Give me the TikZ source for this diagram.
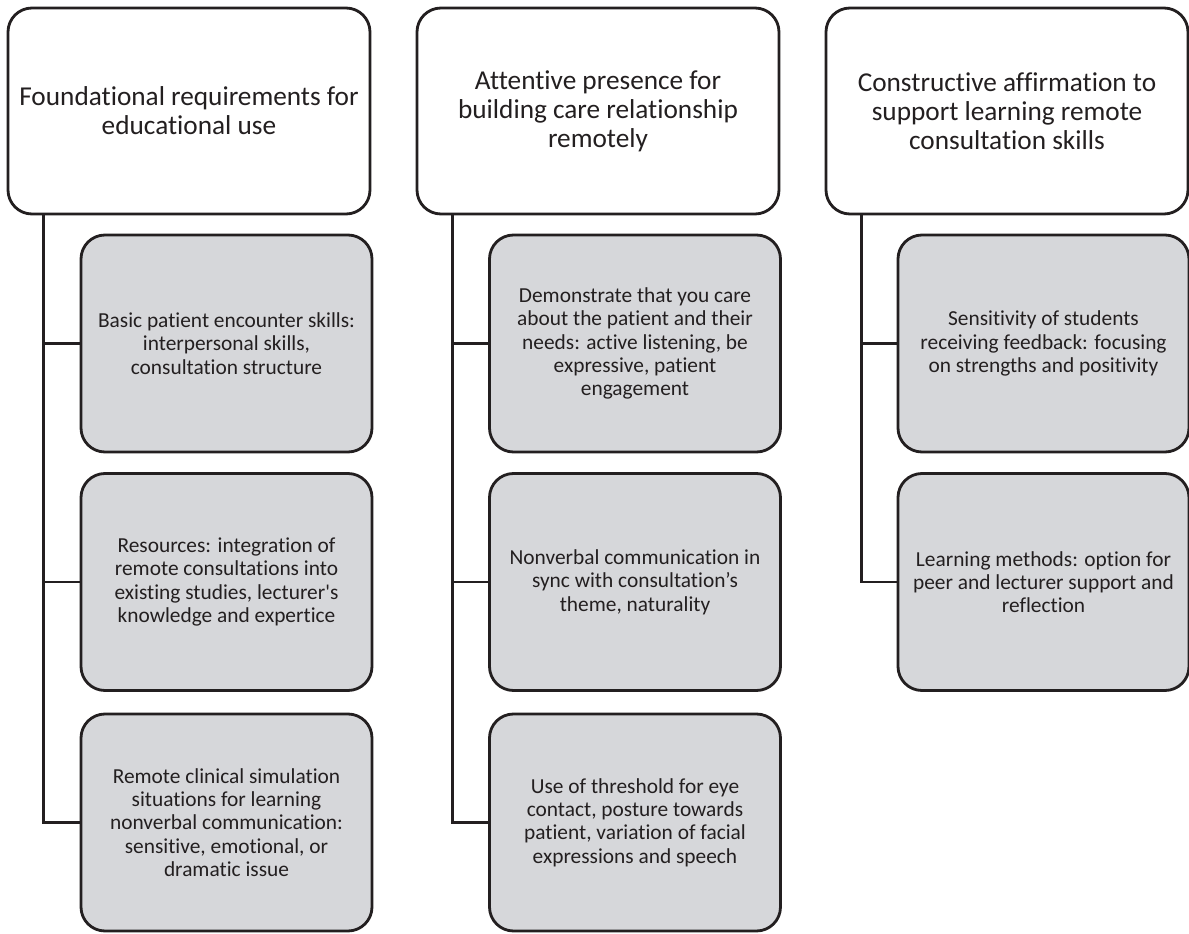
\documentclass[tikz,border=0pt]{standalone}
\usepackage{fontspec}
\setmainfont{Carlito}[Ligatures={TeX,NoCommon}]
\usepackage{tikz}
\usetikzlibrary{calc,positioning}
\definecolor{boxgray}{RGB}{214,215,218}
\definecolor{linegray}{RGB}{35,31,32}

\begin{document}
\begin{tikzpicture}[
        theme/.style={
            rectangle, draw=linegray, line width=2pt, rounded corners=0.6cm, fill=white,
            align=center, text=linegray, font=\fontsize{19.4}{20.6}\selectfont,
            minimum width=9.05cm, minimum height=5.15cm, inner sep=0pt
        },
        sub/.style={
            rectangle, draw=linegray, line width=2pt, rounded corners=0.6cm, fill=boxgray,
            align=center, text=linegray, font=\fontsize{15.2}{16.6}\selectfont,
            minimum width=7.275cm, minimum height=5.425cm, inner sep=0pt
        },
        link/.style={
            draw=linegray, line width=2pt
        }
    ]
    \useasboundingbox (0,0) rectangle (29.725,-23.35);

    % Themes
    \node[theme] (found) at (4.725, -2.775) {Foundational requirements for\\educational use};
    \node[theme] (attent) at (14.95, -2.775) {Attentive presence for\\building care relationship\\remotely};
    \node[theme] (constr) at (25.175, -2.775) {Constructive affirmation to\\support learning remote\\consultation skills};

    % Sub-themes: foundational requirements
    \node[sub] (basic) at (5.6625, -8.5875) {Basic patient encounter skills:\\interpersonal skills,\\consultation structure};
    \node[sub] (resour) at (5.6625, -14.55) {Resources: integration of\\remote consultations into\\existing studies, lecturer\textquotesingle s\\knowledge and expertice};
    \node[sub] (simul) at (5.6625, -20.5625) {Remote clinical simulation\\situations for learning\\nonverbal communication:\\sensitive, emotional, or\\dramatic issue};

    % Sub-themes: attentive presence
    \node[sub] (care) at (15.875, -8.5875) {Demonstrate that you care\\about the patient and their\\needs: active listening, be\\expressive, patient\\engagement};
    \node[sub] (nonverb) at (15.875, -14.55) {Nonverbal communication in\\sync with consultation’s\\theme, naturality};
    \node[sub] (thresh) at (15.875, -20.5625) {Use of threshold for eye\\contact, posture towards\\patient, variation of facial\\expressions and speech};

    % Sub-themes: constructive affirmation
    \node[sub] (sensit) at (26.0875, -8.5875) {Sensitivity of students\\receiving feedback: focusing\\on strengths and positivity};
    \node[sub] (method) at (26.0875, -14.55) {Learning methods: option for\\peer and lecturer support and\\reflection};

    % Tree lines
    \foreach \t/\s in {found/basic, found/resour, found/simul,
                       attent/care, attent/nonverb, attent/thresh,
                       constr/sensit, constr/method}
        \draw[link] ($(\t.south west)+(0.925,0)$) |- (\s.west);

\end{tikzpicture}
\end{document}
